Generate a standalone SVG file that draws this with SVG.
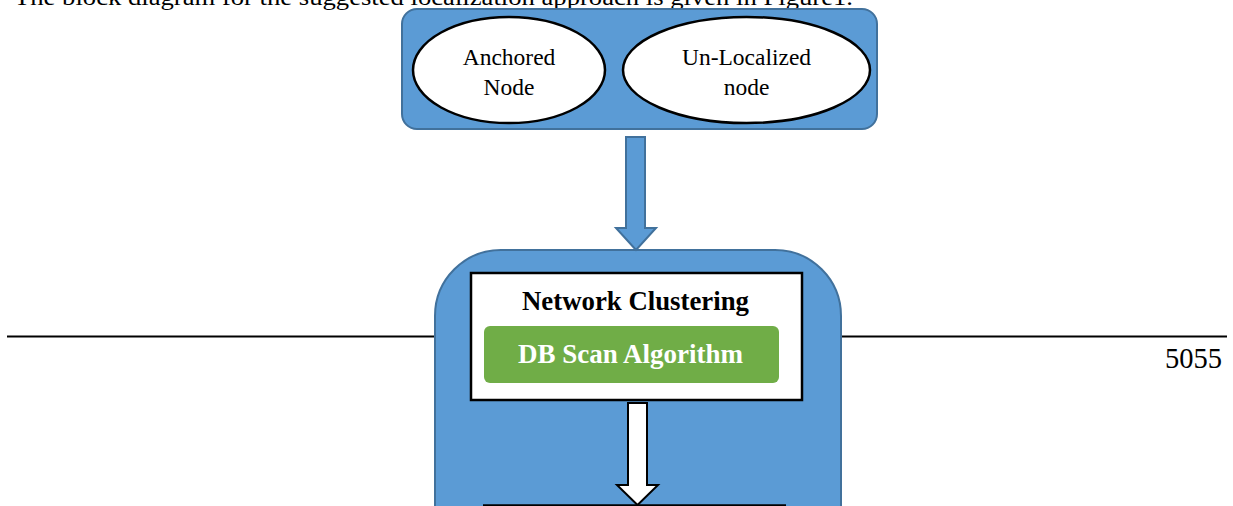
<svg xmlns="http://www.w3.org/2000/svg" width="1233" height="506" viewBox="0 0 1233 506">
<style>
.t{font-family:"Liberation Serif","Times New Roman",serif;fill:#000}
.b{font-weight:bold}
.blue{fill:#5B9BD5;stroke:#41719C;stroke-width:2}
.ell{fill:#fff;stroke:#000;stroke-width:2.5}
</style>
<rect width="1233" height="506" fill="#fff"/>
<text class="t" x="14" y="5" font-size="24" textLength="839" lengthAdjust="spacingAndGlyphs">The block diagram for the suggested localization approach is given in Figure1.</text>
<line x1="7" y1="336.5" x2="1227" y2="336.5" stroke="#000" stroke-width="2"/>
<text class="t" x="1222" y="368" font-size="28.5" text-anchor="end">5055</text>
<g id="input-box">
<rect class="blue" x="402" y="9" width="475" height="120" rx="15"/>
</g>
<g id="anchored-node">
<ellipse class="ell" cx="509" cy="70" rx="96" ry="53"/>
<text class="t" x="509" y="65" font-size="23.5" text-anchor="middle">Anchored</text>
<text class="t" x="509" y="95" font-size="23.5" text-anchor="middle">Node</text>
</g>
<g id="unlocalized-node">
<ellipse class="ell" cx="746.5" cy="70" rx="123.5" ry="53"/>
<text class="t" x="746.5" y="65" font-size="23.5" text-anchor="middle">Un-Localized</text>
<text class="t" x="746.5" y="95" font-size="23.5" text-anchor="middle">node</text>
</g>
<g id="cluster-container">
<path class="blue" d="M435,520 V316 A66,66 0 0 1 501,250 H775 A66,66 0 0 1 841,316 V520"/>
</g>
<g id="connectors">
<path class="blue" d="M626,137 H645 V228 H656 L636,250 L616,228 H626 Z"/>
<path d="M628,403 H647 V485 H658 L637.5,505 L617,485 H628 Z" fill="#fff" stroke="#000" stroke-width="2"/>
</g>
<g id="network-clustering">
<rect x="471" y="273" width="331" height="127" fill="#fff" stroke="#000" stroke-width="2.5"/>
<text class="t b" x="635.5" y="310" font-size="26.8" text-anchor="middle">Network Clustering</text>
</g>
<g id="db-scan">
<rect x="484" y="326" width="295" height="57" rx="6" fill="#70AD47"/>
<text class="t b" x="630.5" y="363" font-size="27" text-anchor="middle" style="fill:#fff">DB Scan Algorithm</text>
</g>
<g id="next-box">
<line x1="483" y1="505.5" x2="786" y2="505.5" stroke="#000" stroke-width="2.5"/>
</g>
</svg>
